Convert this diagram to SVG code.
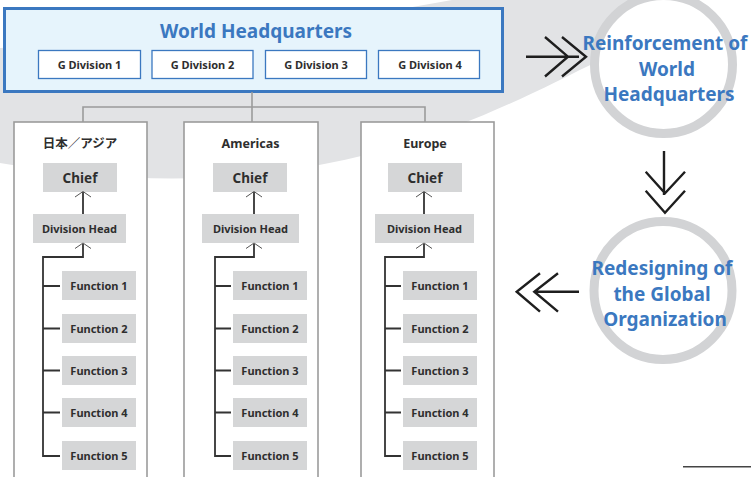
<svg xmlns="http://www.w3.org/2000/svg" width="751" height="477" viewBox="0 0 751 477">
  <style>
    .hq { fill: #e6f4fc; stroke: #3b78c0; stroke-width: 3; }
    .gdiv { fill: #ffffff; stroke: #3b78c0; stroke-width: 1.3; }
    .region { fill: #ffffff; stroke: #9b9b9b; stroke-width: 1.6; }
    .cell { fill: #d5d6d7; }
    .ring { fill: #ffffff; stroke: #d2d3d5; stroke-width: 9; }
    .t { font-family: "Noto Sans", "Open Sans", "Noto Sans CJK JP", sans-serif; font-weight: bold; fill: #2e2e2e; text-anchor: middle; }
    .title { font-size: 19px; fill: #3b78c0; }
    .blue { font-size: 19px; fill: #3b78c0; }
    .s11 { font-size: 11px; }
    .s13 { font-size: 12.5px; }
    .s14 { font-size: 13.5px; }
    .gray-line { fill: none; stroke: #9b9b9b; stroke-width: 1.6; }
    .tree { fill: none; stroke: #333333; stroke-width: 1.8; }
    .tip { fill: none; stroke: #555555; stroke-width: 1; }
    .big { fill: none; stroke: #1e1e1e; stroke-width: 2.4; }
  </style>

  <!-- background sweep -->
  <path d="M0,48 Q250,38 452,0 L630,0 L630,45 L600,60 C470,125 300,215 0,163 Z" fill="#e2e3e5"/>

  <!-- World Headquarters -->
  <g id="hq">
    <rect class="hq" x="4.5" y="8.5" width="498" height="83"/>
    <text class="t title" x="256" y="37.5">World Headquarters</text>
  </g>
  <g id="gdiv1"><rect class="gdiv" x="38.5" y="50.5" width="102" height="28"/><text class="t s11" x="89.5" y="69">G Division 1</text></g>
  <g id="gdiv2"><rect class="gdiv" x="152" y="50.5" width="101" height="28"/><text class="t s11" x="202.5" y="69">G Division 2</text></g>
  <g id="gdiv3"><rect class="gdiv" x="265.5" y="50.5" width="101" height="28"/><text class="t s11" x="316" y="69">G Division 3</text></g>
  <g id="gdiv4"><rect class="gdiv" x="378.5" y="50.5" width="101" height="28"/><text class="t s11" x="430" y="69">G Division 4</text></g>

  <!-- Regional boxes -->
  <g id="region-asia">
    <rect class="region" x="14" y="122" width="133" height="370"/>
    <text class="t s13" x="80" y="148" font-family="'Noto Sans CJK JP', sans-serif">日本／アジア</text>
  </g>
  <g id="region-americas">
    <rect class="region" x="184" y="122" width="134" height="370"/>
    <text class="t s13" x="250.5" y="148">Americas</text>
  </g>
  <g id="region-europe">
    <rect class="region" x="361" y="122" width="133" height="370"/>
    <text class="t s13" x="425" y="148">Europe</text>
  </g>

  <!-- Asia column -->
  <g id="asia-chief"><rect class="cell" x="43" y="163" width="74" height="29"/><text class="t s14" x="80" y="183">Chief</text></g>
  <g id="asia-head"><rect class="cell" x="33" y="214" width="93" height="29"/><text class="t s11" x="79.5" y="232.5">Division Head</text></g>
  <g id="asia-f1"><rect class="cell" x="62" y="271" width="74" height="29"/><text class="t s11" x="99" y="289.5">Function 1</text></g>
  <g id="asia-f2"><rect class="cell" x="62" y="314" width="74" height="29"/><text class="t s11" x="99" y="332.5">Function 2</text></g>
  <g id="asia-f3"><rect class="cell" x="62" y="356" width="74" height="29"/><text class="t s11" x="99" y="374.5">Function 3</text></g>
  <g id="asia-f4"><rect class="cell" x="62" y="398" width="74" height="29"/><text class="t s11" x="99" y="416.5">Function 4</text></g>
  <g id="asia-f5"><rect class="cell" x="62" y="441" width="74" height="29"/><text class="t s11" x="99" y="459.5">Function 5</text></g>

  <!-- Americas column -->
  <g id="am-chief"><rect class="cell" x="213" y="163" width="74" height="29"/><text class="t s14" x="250" y="183">Chief</text></g>
  <g id="am-head"><rect class="cell" x="202" y="214" width="97" height="29"/><text class="t s11" x="250.5" y="232.5">Division Head</text></g>
  <g id="am-f1"><rect class="cell" x="233" y="271" width="74" height="29"/><text class="t s11" x="270" y="289.5">Function 1</text></g>
  <g id="am-f2"><rect class="cell" x="233" y="314" width="74" height="29"/><text class="t s11" x="270" y="332.5">Function 2</text></g>
  <g id="am-f3"><rect class="cell" x="233" y="356" width="74" height="29"/><text class="t s11" x="270" y="374.5">Function 3</text></g>
  <g id="am-f4"><rect class="cell" x="233" y="398" width="74" height="29"/><text class="t s11" x="270" y="416.5">Function 4</text></g>
  <g id="am-f5"><rect class="cell" x="233" y="441" width="74" height="29"/><text class="t s11" x="270" y="459.5">Function 5</text></g>

  <!-- Europe column -->
  <g id="eu-chief"><rect class="cell" x="388" y="163" width="74" height="29"/><text class="t s14" x="425" y="183">Chief</text></g>
  <g id="eu-head"><rect class="cell" x="375" y="214" width="99" height="29"/><text class="t s11" x="424.5" y="232.5">Division Head</text></g>
  <g id="eu-f1"><rect class="cell" x="403" y="271" width="74" height="29"/><text class="t s11" x="440" y="289.5">Function 1</text></g>
  <g id="eu-f2"><rect class="cell" x="403" y="314" width="74" height="29"/><text class="t s11" x="440" y="332.5">Function 2</text></g>
  <g id="eu-f3"><rect class="cell" x="403" y="356" width="74" height="29"/><text class="t s11" x="440" y="374.5">Function 3</text></g>
  <g id="eu-f4"><rect class="cell" x="403" y="398" width="74" height="29"/><text class="t s11" x="440" y="416.5">Function 4</text></g>
  <g id="eu-f5"><rect class="cell" x="403" y="441" width="74" height="29"/><text class="t s11" x="440" y="459.5">Function 5</text></g>

  <!-- Stages on the right -->
  <g id="stage-reinforce">
    <circle class="ring" cx="663.5" cy="64.5" r="69"/>
    <text class="t blue" x="665" y="50">Reinforcement of</text>
    <text class="t blue" x="667" y="75.5">World</text>
    <text class="t blue" x="669" y="101">Headquarters</text>
  </g>
  <g id="stage-redesign">
    <circle class="ring" cx="663" cy="290.5" r="69"/>
    <text class="t blue" x="662" y="275">Redesigning of</text>
    <text class="t blue" x="662" y="300.5">the Global</text>
    <text class="t blue" x="665" y="326">Organization</text>
  </g>

  <g id="connectors">
    <!-- HQ to regions -->
    <path class="gray-line" d="M252,92 V107 M83,122 V107 H425 V122 M252,107 V122"/>

    <!-- Asia tree -->
    <path class="tree" d="M83,214 V192"/>
    <path class="tip" d="M75,197 L83,191.5 L91,197"/>
    <path class="tree" d="M83,244 V257 H43 V456 H60 M43,286 H60 M43,328.5 H60 M43,370.5 H60 M43,412.5 H60"/>
    <path class="tip" d="M75,248.5 L83,243 L91,248.5"/>

    <!-- Americas tree -->
    <path class="tree" d="M254,214 V192"/>
    <path class="tip" d="M246,197 L254,191.5 L262,197"/>
    <path class="tree" d="M254,244 V257 H215 V456 H231 M215,286 H231 M215,328.5 H231 M215,370.5 H231 M215,412.5 H231"/>
    <path class="tip" d="M246,248.5 L254,243 L262,248.5"/>

    <!-- Europe tree -->
    <path class="tree" d="M424,214 V192"/>
    <path class="tip" d="M416,197 L424,191.5 L432,197"/>
    <path class="tree" d="M424,244 V257 H385 V456 H401 M385,286 H401 M385,328.5 H401 M385,370.5 H401 M385,412.5 H401"/>
    <path class="tip" d="M416,248.5 L424,243 L432,248.5"/>

    <!-- stage arrows -->
    <path class="big" d="M526,56.7 H579 M545,37 L568,56.7 L545,76.5 M562,37 L586,56.7 L562,76.5"/>
    <path class="big" d="M664,151 V195 M645.7,171.7 L665,193.3 L685,171.7 M645.7,190.7 L665,212.7 L685,190.7"/>
    <path class="big" d="M579,291.7 H535 M540,273.3 L516.7,291.7 L540,311.7 M558,273.3 L534.3,291.7 L558,311.7"/>
  </g>

  <!-- page rule -->
  <line x1="683" y1="466.7" x2="751" y2="466.7" stroke="#444444" stroke-width="1.5"/>
</svg>
